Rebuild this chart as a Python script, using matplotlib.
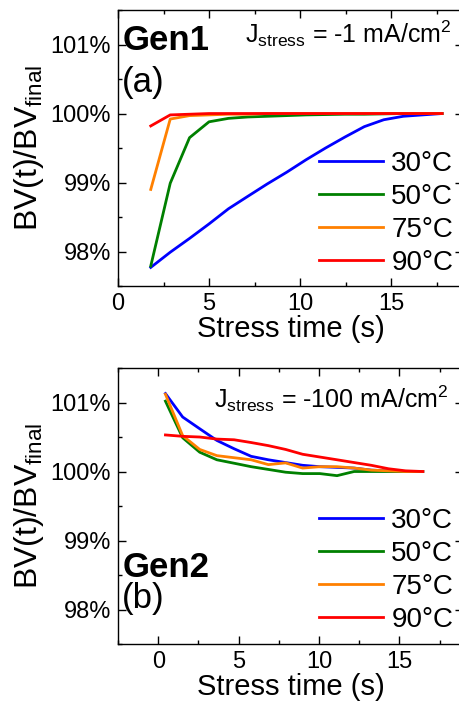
import matplotlib
matplotlib.use("Agg")
import matplotlib.pyplot as plt
from matplotlib.ticker import MultipleLocator, FuncFormatter

plt.rcParams['font.family'] = ['Liberation Sans', 'DejaVu Sans']
plt.rcParams['mathtext.fontset'] = 'custom'
plt.rcParams['mathtext.rm'] = 'Liberation Sans'
plt.rcParams['mathtext.it'] = 'Liberation Sans:italic'
plt.rcParams['mathtext.bf'] = 'Liberation Sans:bold'

labels = ['30°C', '50°C', '75°C', '90°C']
colors = ['#0000FF', '#008000', '#FF8000', '#FF0000']

# Panel (a) Gen1, J = -1 mA/cm2
t_a = [1.8, 2.87, 3.93, 5.0, 6.07, 7.13, 8.2, 9.27, 10.33, 11.4, 12.47, 13.53, 14.6, 15.67, 16.73, 17.8]
a_30 = [97.77, 97.99, 98.19, 98.40, 98.62, 98.80, 98.98, 99.15, 99.33, 99.50, 99.66, 99.81, 99.91, 99.96, 99.98, 100.0]
a_50 = [97.79, 98.99, 99.65, 99.88, 99.93, 99.95, 99.96, 99.97, 99.98, 99.985, 99.99, 99.99, 99.995, 100.0, 100.0, 100.0]
a_75 = [98.90, 99.92, 99.97, 99.98, 99.99, 99.99, 100.0, 100.0, 100.0, 100.0, 100.0, 100.0, 100.0, 100.0, 100.0, 100.0]
a_90 = [99.82, 99.98, 99.99, 100.0, 100.0, 100.0, 100.0, 100.0, 100.0, 100.0, 100.0, 100.0, 100.0, 100.0, 100.0, 100.0]

# Panel (b) Gen2, J = -100 mA/cm2
t_b = [0.45, 1.52, 2.58, 3.65, 4.72, 5.78, 6.85, 7.92, 8.98, 10.05, 11.12, 12.18, 13.25, 14.32, 15.38, 16.45]
b_30 = [101.13, 100.79, 100.62, 100.45, 100.33, 100.22, 100.17, 100.13, 100.09, 100.07, 100.06, 100.05, 100.02, 100.01, 100.0, 100.0]
b_50 = [101.02, 100.49, 100.28, 100.17, 100.12, 100.07, 100.03, 99.99, 99.97, 99.97, 99.94, 100.0, 100.0, 100.0, 100.0, 100.0]
b_75 = [101.12, 100.52, 100.32, 100.23, 100.20, 100.17, 100.10, 100.125, 100.05, 100.07, 100.07, 100.05, 100.02, 100.01, 100.0, 100.0]
b_90 = [100.53, 100.51, 100.50, 100.47, 100.46, 100.42, 100.375, 100.32, 100.25, 100.21, 100.17, 100.13, 100.09, 100.04, 100.01, 100.0]

fig = plt.figure(figsize=(4.6, 7.11), dpi=100)
ax1 = fig.add_axes([0.2565, 0.5977, 0.75, 0.3882])
ax2 = fig.add_axes([0.2565, 0.0942, 0.75, 0.3882])

pct = FuncFormatter(lambda v, p: f"{v:.0f}%")

def style(ax, xlim):
    ax.set_xlim(*xlim)
    ax.set_ylim(97.5, 101.5)
    ax.xaxis.set_major_locator(MultipleLocator(5))
    ax.xaxis.set_minor_locator(MultipleLocator(2.5))
    ax.yaxis.set_major_locator(MultipleLocator(1))
    ax.yaxis.set_minor_locator(MultipleLocator(0.5))
    ax.yaxis.set_major_formatter(pct)
    ax.tick_params(which='both', direction='in', top=True, right=True, labelsize=17, width=1.0)
    ax.tick_params(which='major', length=6, pad=5)
    ax.tick_params(which='minor', length=3)
    for s in ax.spines.values():
        s.set_linewidth(1.0)
    ax.set_xlabel('Stress time (s)', fontsize=21, labelpad=0)
    ax.set_ylabel(r'BV(t)/BV$_{\mathrm{final}}$', fontsize=23, labelpad=3)

for ys, c, l in zip([a_30, a_50, a_75, a_90], colors, labels):
    ax1.plot(t_a, ys, color=c, lw=2, label=l)
for ys, c, l in zip([b_30, b_50, b_75, b_90], colors, labels):
    ax2.plot(t_b, ys, color=c, lw=2, label=l)

style(ax1, (0, 18.95))
style(ax2, (-2.5, 18.95))

for ax, name, tag, gy, ty, jtxt, jx, jy, leg_y in [
    (ax1, 'Gen1', '(a)', 0.855, 0.703, r'$\mathrm{J_{stress}}$ = -1 mA/cm$^2$', 0.968, 0.880, 0.038),
    (ax2, 'Gen2', '(b)', 0.244, 0.130, r'$\mathrm{J_{stress}}$ = -100 mA/cm$^2$', 0.957, 0.855, 0.041)]:
    ax.text(0.012, gy, name, transform=ax.transAxes, fontsize=25, fontweight='bold', va='baseline', ha='left')
    ax.text(0.012, ty, tag, transform=ax.transAxes, fontsize=25, va='baseline', ha='left')
    ax.text(jx, jy, jtxt, transform=ax.transAxes, fontsize=18, va='baseline', ha='right')
    ax.legend(loc='lower right', bbox_to_anchor=(0.972, leg_y), frameon=False, fontsize=20,
              handlelength=2.3, handletextpad=0.3, labelspacing=0.25, borderaxespad=0.0, borderpad=0.0)

fig.savefig('out.png', dpi=100)
